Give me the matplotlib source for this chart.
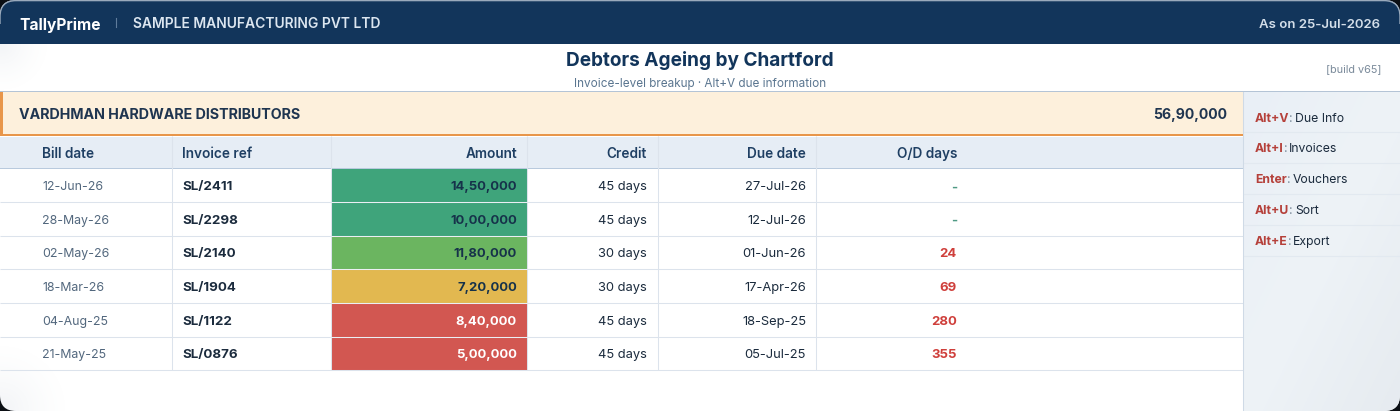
import matplotlib
matplotlib.use("Agg")
import matplotlib.pyplot as plt
from matplotlib.patches import Rectangle, FancyBboxPatch
from matplotlib.colors import LinearSegmentedColormap
import numpy as np

bill_dates = ["12-Jun-26", "28-May-26", "02-May-26", "18-Mar-26", "04-Aug-25", "21-May-25"]
invoices = ["SL/2411", "SL/2298", "SL/2140", "SL/1904", "SL/1122", "SL/0876"]
amounts = ["14,50,000", "10,00,000", "11,80,000", "7,20,000", "8,40,000", "5,00,000"]
credits = ["45 days", "45 days", "30 days", "30 days", "45 days", "45 days"]
due_dates = ["27-Jul-26", "12-Jul-26", "01-Jun-26", "17-Apr-26", "18-Sep-25", "05-Jul-25"]
od_days = ["-", "-", "24", "69", "280", "355"]
amount_fill = ["#3FA47B", "#3FA47B", "#6BB560", "#E2B850", "#D25751", "#D25751"]
amount_text = ["#16324A", "#16324A", "#16324A", "#16324A", "#FFFFFF", "#FFFFFF"]
od_color = ["#4F9A84", "#4F9A84", "#CF3F3B", "#CF3F3B", "#CF3F3B", "#CF3F3B"]
columns = ["Bill date", "Invoice ref", "Amount", "Credit", "Due date", "O/D days"]
shortcut_keys = ["Alt+V", "Alt+I", "Enter", "Alt+U", "Alt+E"]
shortcut_labels = ["Due Info", "Invoices", "Vouchers", "Sort", "Export"]

NAVY = "#12355B"
INK = "#1B2B3D"
RULE = "#DCE3EC"
plt.rcParams["font.family"] = ["Inter", "DejaVu Sans"]

fig = plt.figure(figsize=(14, 4.11), dpi=100, facecolor="#0B0F14")
ax = fig.add_axes([0, 0, 1, 1])
ax.set_xlim(0, 1400)
ax.set_ylim(411, 0)
ax.axis("off")

card = FancyBboxPatch((0, 0), 1400, 411, boxstyle="round,pad=0,rounding_size=16",
                      fc="white", ec="none", zorder=0)
ax.add_patch(card)
clip = card

# faint corner shading behind the content
gx, gy = np.meshgrid(np.linspace(0, 1400, 350), np.linspace(0, 411, 103))
d = np.minimum.reduce([np.hypot(gx, gy - 44) * 1.4, np.hypot(gx, gy - 411), np.hypot(gx - 1400, gy - 411)])
shade = np.clip(1 - d / 70, 0, 1) ** 1.5 * 0.13
rgba = np.zeros(shade.shape + (4,))
rgba[..., :3] = (0.62, 0.68, 0.75)
rgba[..., 3] = shade
im = ax.imshow(rgba, extent=(0, 1400, 411, 0), aspect="auto", zorder=0.5, interpolation="bilinear")
im.set_clip_path(clip)

def rect(x, y, w, h, c, z=1):
    p = Rectangle((x, y), w, h, fc=c, ec="none", zorder=z)
    ax.add_patch(p)
    p.set_clip_path(clip)
    return p

def txt(x, y, s, size, color, weight="normal", ha="left", z=5):
    return ax.text(x, y, s, fontsize=size, color=color, fontweight=weight, ha=ha, va="center_baseline", zorder=z)

# top strip
rect(0, 0, 1400, 44, NAVY)
edge = FancyBboxPatch((0, 0.6), 1400, 420, boxstyle="round,pad=0,rounding_size=16",
                      fc="none", ec="#9AAABC", lw=1.0, zorder=2)
ax.add_patch(edge)
edge.set_clip_path(Rectangle((0, 0), 1400, 24, transform=ax.transData))
txt(19, 23.5, "TallyPrime", 11.2, "white", "bold")
ax.plot([116, 116], [18, 27], color="#5F7C9B", lw=0.8, zorder=3)
txt(133, 22.5, "SAMPLE MANUFACTURING PVT LTD", 10.0, "#DCE6F0", "semibold")
txt(1380, 23, "As on 25-Jul-2026", 9.5, "#D3DEE9", "semibold", ha="right")

# title
txt(700, 59, "Debtors Ageing by Chartford", 13.7, NAVY, "bold", ha="center")
txt(700, 82, "Invoice-level breakup · Alt+V due information", 8.45, "#5B7690", ha="center")
txt(1381, 68, "[build v65]", 7.8, "#7A8A9A", ha="right")
rect(0, 91, 1400, 1.5, "#B4C4D6", 2)

# party band
rect(0, 92.5, 1243, 43, "#FDF0DC")
rect(0, 92.5, 3, 43.5, "#E8964A", 2)
rect(0, 134.3, 1243, 2, "#E8964A", 2)
txt(19, 113.5, "VARDHMAN HARDWARE DISTRIBUTORS", 10.25, "#1F3550", "bold")
txt(1227, 113.5, "56,90,000", 10.1, "#1F3550", "bold", ha="right")

# table header
top, hh, rh = 136.5, 32.0, 33.6
vx = [172, 331, 527, 658, 816]
rect(0, top, 1243, hh, "#E6EDF5")
rect(0, top + hh - 0.8, 1243, 1.4, "#B9CADD", 3)
hx = [42, 182, 517, 647, 806, 957]
ha = ["left", "left", "right", "right", "right", "right"]
for x, h, a in zip(hx, columns, ha):
    txt(x, top + hh / 2 - 0.5, h, 9.8, "#1F3F63", "semibold", ha=a)

# rows
y0 = top + hh
for i in range(len(invoices)):
    y = y0 + i * rh
    cy = y + rh / 2 + 0.4
    rect(331, y, 196, rh, amount_fill[i], 2)
    ax.plot([0, 1243], [y + rh, y + rh], color=RULE, lw=0.75, zorder=3, solid_capstyle="butt")
    if i < len(invoices) - 1:
        ax.plot([331, 527], [y + rh, y + rh], color="#FFFFFF", alpha=0.45, lw=0.75, zorder=3.5, solid_capstyle="butt")
    txt(42, cy, bill_dates[i], 8.9, "#52677D")
    txt(182, cy, invoices[i], 9.6, INK, "bold")
    txt(517, cy, amounts[i], 9.4, amount_text[i], "bold", ha="right")
    txt(647, cy, credits[i], 9.3, INK, ha="right")
    txt(806, cy, due_dates[i], 9.3, INK, ha="right")
    txt(957, cy, od_days[i], 9.5, od_color[i], "bold", ha="right")

# vertical column rules
bottom = y0 + len(invoices) * rh
for x in vx:
    ax.plot([x, x], [top, bottom], color=RULE, lw=0.75, zorder=3.2, solid_capstyle="butt")

# sidebar with its soft gradient
sx, sy = np.meshgrid(np.linspace(0, 1, 80), np.linspace(0, 1, 160))
cm = LinearSegmentedColormap.from_list("side", ["#E9EFF6", "#EEF3F7", "#E6EBF0"])
sb = ax.imshow((sx + sy) / 2, cmap=cm, vmin=0, vmax=1, extent=(1243, 1400, 411, 92.5),
               aspect="auto", zorder=1, interpolation="bilinear")
sb.set_clip_path(clip)
ax.set_xlim(0, 1400)
ax.set_ylim(411, 0)
ax.plot([1243, 1243], [92.5, 411], color="#CFDAE6", lw=0.75, zorder=3)

fig.canvas.draw()
r = fig.canvas.get_renderer()
for i, (k, l) in enumerate(zip(shortcut_keys, shortcut_labels)):
    cy = 117 + i * 30.9
    t = txt(1255, cy, k, 8.8, "#B5403A", "bold")
    xe = t.get_window_extent(r).x1
    c = txt(xe, cy, ":", 8.8, "#7A8A9A")
    xe2 = c.get_window_extent(r).x1 + 2
    txt(xe2, cy, l, 8.8, INK)
    ax.plot([1244, 1400], [cy + 15.3, cy + 15.3], color="#E2E9F0", lw=0.75, zorder=3)

fig.savefig("out.png", dpi=100, facecolor=fig.get_facecolor())
